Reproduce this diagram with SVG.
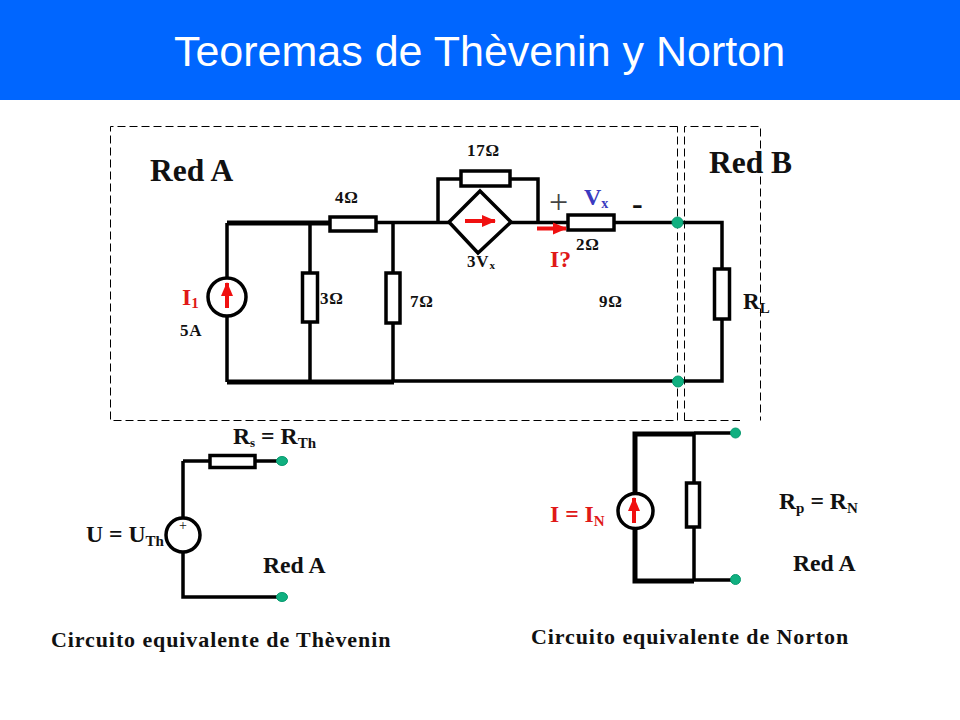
<svg xmlns="http://www.w3.org/2000/svg" width="960" height="720" viewBox="0 0 960 720">
<defs>
<marker id="ah" markerUnits="userSpaceOnUse" markerWidth="14" markerHeight="14" refX="13" refY="7" orient="auto"><path d="M0 1L14 7L0 13Z" fill="#f01010"/></marker>
</defs>
<style>
text{font-family:"Liberation Serif",serif;font-weight:bold;fill:#111}
.w{fill:none;stroke:#000;stroke-width:3.5}
.t{fill:none;stroke:#000;stroke-width:5}
.r{fill:#fff;stroke:#000;stroke-width:3.5}
.d{fill:none;stroke:#000;stroke-width:1;stroke-dasharray:8 4}
.n{fill:#10b080;stroke:#0a9a70;stroke-width:1}
.a{fill:none;stroke:#f01010;stroke-width:4;marker-end:url(#ah)}
.red{fill:#e01818}
.s{font-size:17px;letter-spacing:.8px}.m{font-size:23.700px}.b{font-size:31.500px}.c{font-size:22px;letter-spacing:.9px}
</style>
<rect width="960" height="100" fill="#0066ff"/>
<text x="479.500" y="66" text-anchor="middle" style="font-family:'Liberation Sans',sans-serif;font-weight:normal;font-size:43px;fill:#fff">Teoremas de Thèvenin y Norton</text>
<g id="regions">
<path class="d" d="M677.500 126.500H110.500V420.500H677.500Z"/>
<path class="d" d="M684.500 420.500V126.500H760.500V420.500M684.500 420.500H740"/>
</g>
<g id="connectors">
<path class="t" d="M227 223H330M227 382H394"/>
<path class="w" d="M227 223V280M227 316V382M310 223V273M310 322V382M393 223V273M393 323V382"/>
<path class="w" d="M376 222.500H450M510 222.500H568M614 222.500H678H722V269M722 319V381H394"/>
<path class="w" d="M438 222V179H461M510 179H538V222"/>
<path class="w" d="M183 461H210M255 461H282M183 461V519M183 551V597H282"/>
<path class="t" d="M635 504V434H694M635 520V581H694"/>
<path class="w" d="M694 433H735M694 433V483M694 527V580M694 580H735"/>
</g>
<g id="I1-source"><circle class="r" cx="227" cy="297" r="19"/><path class="a" d="M227 308V283"/><text class="m red" x="182" y="305">I<tspan font-size="15" dy="3">1</tspan></text><text class="s" x="180" y="336">5A</text></g>
<g id="R3"><rect class="r" x="302.500" y="273" width="15" height="49"/><text class="s" x="320" y="304">3Ω</text></g>
<g id="R4"><rect class="r" x="330" y="217" width="46" height="14"/><text class="s" x="335" y="203">4Ω</text></g>
<g id="R7"><rect class="r" x="386" y="273" width="14" height="50"/><text class="s" x="410" y="307">7Ω</text></g>
<g id="R17"><rect class="r" x="461" y="171" width="49" height="15"/><text class="s" x="467" y="156">17Ω</text></g>
<g id="dep-source"><path class="r" d="M480 191L511 222L478 253L449 222Z"/><path class="a" d="M465 221H495"/><text class="s" x="467" y="267">3V<tspan font-size="11" dy="2">x</tspan></text></g>
<g id="R2"><rect class="r" x="568" y="215" width="46" height="15"/><path class="a" d="M537 228.500H566"/><text class="s" x="576" y="250">2Ω</text></g>
<g id="vx-labels"><text x="549" y="213" style="font-size:34px;font-weight:normal;fill:#444">+</text><text x="584" y="205" style="fill:#3a3ac0;font-size:24px">V<tspan font-size="14" dy="3">x</tspan></text><text x="632" y="214" style="font-size:32px">-</text><text class="m red" x="550" y="267">I?</text></g>
<text class="s" x="599" y="307">9Ω</text>
<g id="terminal-a"><circle class="n" cx="677.500" cy="222.500" r="5.500"/></g>
<g id="terminal-b"><circle class="n" cx="678" cy="381.500" r="5.500"/></g>
<g id="RL"><rect class="r" x="714.500" y="269" width="15" height="50"/><text x="743" y="309" style="font-size:23px">R<tspan font-size="15" dy="4">L</tspan></text></g>
<text class="b" x="150" y="181">Red A</text>
<text class="b" x="709" y="173">Red B</text>
<g id="thevenin">
<rect class="r" x="210" y="455.500" width="45" height="12"/>
<circle class="r" cx="183" cy="535" r="17"/>
<text x="179" y="530" style="font-size:14px;font-weight:normal">+</text>
<ellipse class="n" cx="282" cy="461" rx="5.500" ry="4.500"/>
<ellipse class="n" cx="282" cy="597" rx="5.500" ry="4.500"/>
<text class="m" x="233" y="444">R<tspan font-size="13" dy="3">s</tspan><tspan dy="-3"> = R</tspan><tspan font-size="15" dy="4">Th</tspan></text>
<text class="m" x="86" y="542">U = U<tspan font-size="15" dy="4">Th</tspan></text>
<text class="m" x="263" y="573">Red A</text>
<text class="c" x="51" y="647">Circuito equivalente de Thèvenin</text>
</g>
<g id="norton">
<rect class="r" x="686.500" y="483" width="13" height="44"/>
<circle class="r" cx="635.500" cy="511" r="17.500"/>
<path class="a" d="M634 523V498"/>
<circle class="n" cx="735.500" cy="433" r="5"/>
<circle class="n" cx="735.500" cy="579.500" r="5"/>
<text class="m red" x="550" y="522">I = I<tspan font-size="15" dy="4">N</tspan></text>
<text class="m" x="779" y="509">R<tspan font-size="15" dy="4">p</tspan><tspan dy="-4"> = R</tspan><tspan font-size="15" dy="4">N</tspan></text>
<text class="m" x="793" y="571">Red A</text>
<text class="c" x="531" y="644">Circuito equivalente de Norton</text>
</g>
</svg>
